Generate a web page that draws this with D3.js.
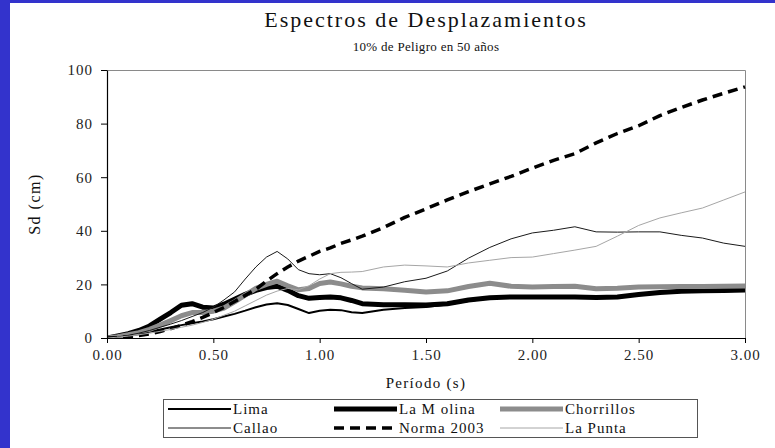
<!DOCTYPE html>
<html>
<head>
<meta charset="utf-8">
<script src="https://cdn.jsdelivr.net/npm/d3@7"></script>
<style>
  html, body { margin: 0; padding: 0; background: #fff; }
  svg { display: block; }
  svg text { font-family: "Liberation Serif", serif; }
</style>
</head>
<body>
<svg id="chart" width="775" height="448"></svg>
<script>
// Períodos (s) y desplazamientos espectrales Sd (cm)
const periods = [0, 0.05, 0.1, 0.15, 0.2, 0.25, 0.3, 0.35, 0.4, 0.45, 0.5, 0.55, 0.6, 0.65, 0.7, 0.75, 0.8, 0.85, 0.9, 0.95,
  1.0, 1.05, 1.1, 1.15, 1.2, 1.3, 1.4, 1.5, 1.6, 1.7, 1.8, 1.9, 2.0, 2.1, 2.2, 2.3, 2.4, 2.5, 2.6, 2.7, 2.8, 2.9, 3.0];

const lima = [0, 0.3, 0.8, 1.5, 2.3, 3.2, 4.0, 4.8, 5.5, 6.2, 7.0, 8.0, 9.0, 10.2, 11.5, 12.5, 13.0, 12.3, 10.8, 9.3,
  10.2, 10.5, 10.4, 9.6, 9.3, 10.5, 11.2, 11.6, 12.5, 13.8, 14.8, 15.0, 15.0, 15.0, 15.1, 15.3, 15.5, 16.0, 16.8, 17.2, 17.3, 17.4, 17.6];

const laMolina = [0, 0.8, 1.6, 2.8, 4.5, 7.0, 9.5, 12.2, 12.8, 11.5, 11.2, 12.6, 14.5, 16.3, 17.8, 18.8, 19.3, 17.8, 15.8, 14.8,
  15.1, 15.3, 15.0, 14.0, 12.8, 12.4, 12.4, 12.3, 12.8, 14.2, 15.0, 15.3, 15.3, 15.3, 15.3, 15.1, 15.3, 16.2, 17.0, 17.4, 17.6, 17.7, 17.9];

const chorrillos = [0, 0.5, 1.2, 2.0, 3.2, 4.8, 6.5, 8.3, 9.5, 9.5, 10.0, 11.2, 13.5, 16.0, 18.5, 20.0, 21.2, 19.5, 18.0, 18.5,
  20.3, 20.9, 20.2, 19.3, 18.7, 18.4, 17.8, 17.2, 17.6, 19.2, 20.4, 19.3, 19.0, 19.2, 19.3, 18.4, 18.6, 19.0, 19.1, 19.2, 19.2, 19.3, 19.4];

const callao = [0, 0.4, 1.0, 1.8, 2.8, 4.0, 5.2, 6.5, 8.0, 9.5, 11.5, 14.2, 17.2, 22.0, 26.5, 30.2, 32.3, 29.5, 25.5, 24.0,
  23.6, 24.0, 22.5, 20.3, 18.2, 19.0, 21.0, 22.3, 25.0, 29.8, 33.8, 37.0, 39.2, 40.2, 41.5, 39.6, 39.5, 39.6, 39.6, 38.3, 37.3, 35.4, 34.2];

const norma2003 = [0, 0.1, 0.4, 0.9, 1.5, 2.4, 3.5, 4.7, 6.1, 7.7, 9.5, 11.4, 13.6, 15.9, 18.2, 21.2, 24.0, 26.5, 28.7, 30.5,
  32.3, 33.6, 35.3, 36.6, 38.0, 41.2, 45.0, 48.2, 51.5, 54.6, 57.5, 60.3, 63.4, 66.3, 68.8, 72.8, 76.3, 79.2, 83.0, 86.0, 88.8, 91.3, 93.7];

const laPunta = [0, 0.3, 0.7, 1.2, 1.8, 2.5, 3.2, 4.0, 4.8, 5.8, 7.0, 8.5, 10.0, 12.0, 14.0, 16.0, 17.5, 18.5, 18.0, 19.5,
  22.0, 24.0, 24.5, 24.6, 24.8, 26.5, 27.2, 26.9, 26.5, 28.0, 29.0, 30.0, 30.2, 31.5, 32.8, 34.2, 38.0, 42.0, 44.8, 46.7, 48.5, 51.5, 54.5];

const xTicks = [0, 0.5, 1.0, 1.5, 2.0, 2.5, 3.0];
const yTicks = [0, 20, 40, 60, 80, 100];

const seriesNames = ["Lima", "La M olina", "Chorrillos", "Callao", "Norma 2003", "La Punta"];
const seriesValues = [lima, laMolina, chorrillos, callao, norma2003, laPunta];
const seriesStyle = [
  { color: "#000000", width: 2,   dash: null },
  { color: "#000000", width: 5,   dash: null },
  { color: "#8c8c8c", width: 5,   dash: null },
  { color: "#1a1a1a", width: 1,   dash: null },
  { color: "#000000", width: 3.5, dash: "10,6" },
  { color: "#a6a6a6", width: 1,   dash: null }
];

const SERIF = "Liberation Serif";
const svg = d3.select("#chart");
const W = 775, H = 448;

// marco azul superior e izquierdo
svg.append("rect").attr("x", 0).attr("y", 0).attr("width", W).attr("height", 3).attr("fill", "#3333cc");
svg.append("rect").attr("x", 0).attr("y", 0).attr("width", 10).attr("height", H).attr("fill", "#3333cc");

const plot = { left: 107, right: 745, top: 70, bottom: 338 };

const x = d3.scaleLinear().domain([0, 3]).range([plot.left, plot.right]);
const y = d3.scaleLinear().domain([0, 100]).range([plot.bottom, plot.top]);

// borde gris del área de trazado
svg.append("path")
  .attr("d", `M${plot.left},${plot.top + 0.5}H${plot.right + 0.5}V${plot.bottom}`)
  .attr("fill", "none").attr("stroke", "#8a8a8a").attr("stroke-width", 1);

// series
svg.append("clipPath").attr("id", "clip").append("rect")
  .attr("x", plot.left).attr("y", plot.top - 5)
  .attr("width", plot.right - plot.left + 4).attr("height", plot.bottom - plot.top + 5);

const line = d3.line().x((d, i) => x(periods[i])).y(d => y(d));

const gSeries = svg.append("g").attr("clip-path", "url(#clip)");
seriesValues.forEach((vals, k) => {
  const st = seriesStyle[k];
  gSeries.append("path")
    .datum(vals)
    .attr("d", line)
    .attr("fill", "none")
    .attr("stroke", st.color)
    .attr("stroke-width", st.width)
    .attr("stroke-linejoin", "round")
    .attr("stroke-dasharray", st.dash);
});

// ejes
const fmtX = d3.format(".2f");
const xAxis = d3.axisBottom(x).tickValues(xTicks).tickFormat(fmtX).tickSizeInner(5).tickSizeOuter(0).tickPadding(6);
const yAxis = d3.axisLeft(y).tickValues(yTicks).tickFormat(d3.format("d")).tickSizeInner(6).tickSizeOuter(0).tickPadding(8);

const gx = svg.append("g").attr("transform", `translate(0,${plot.bottom})`).call(xAxis);
const gy = svg.append("g").attr("transform", `translate(${plot.left},0)`).call(yAxis);
[gx, gy].forEach(g => {
  g.attr("font-family", SERIF);
  g.select(".domain").attr("stroke", "#000").attr("stroke-width", 1.2);
  g.selectAll(".tick line").attr("stroke", "#000");
  g.selectAll(".tick text")
    .attr("fill", "#222")
    .attr("font-family", SERIF)
    .style("font-family", SERIF)
    .style("font-size", "15px")
    .style("letter-spacing", "1px");
});

// títulos
const cx0 = (plot.left + plot.right) / 2;
function label(xp, yp, txt, size, spacing) {
  return svg.append("text").attr("x", xp).attr("y", yp)
    .attr("text-anchor", "middle").attr("font-family", SERIF)
    .style("font-family", SERIF).style("font-size", size + "px").style("letter-spacing", spacing + "px")
    .attr("fill", "#111").text(txt);
}
label(cx0, 27, "Espectros de Desplazamientos", 22, 2);
label(cx0, 51, "10% de Peligro en 50 años", 13, 0.3);
label(cx0, 388, "Período (s)", 15, 1.3);
label(0, 0, "Sd (cm)", 16, 1.5).attr("transform", `translate(40,${(plot.top + plot.bottom) / 2}) rotate(-90)`);

// leyenda
const leg = { x: 163, y: 399, w: 534, h: 38 };
svg.append("rect").attr("x", leg.x + 0.5).attr("y", leg.y + 0.5).attr("width", leg.w).attr("height", leg.h)
  .attr("fill", "#fff").attr("stroke", "#555").attr("stroke-width", 1);
const colX = [168, 334, 500];
const rowY = [409, 428];
seriesNames.forEach((name, k) => {
  const st = seriesStyle[k];
  const cx = colX[k % 3], cy = rowY[Math.floor(k / 3)];
  svg.append("line").attr("x1", cx).attr("x2", cx + 63).attr("y1", cy).attr("y2", cy)
    .attr("stroke", st.color).attr("stroke-width", st.width)
    .attr("stroke-dasharray", st.dash);
  svg.append("text").attr("x", cx + 65).attr("y", cy + 5)
    .attr("font-family", SERIF)
    .style("font-family", SERIF).style("font-size", "15px").style("letter-spacing", "1px").attr("fill", "#111")
    .text(name);
});
</script>
</body>
</html>
